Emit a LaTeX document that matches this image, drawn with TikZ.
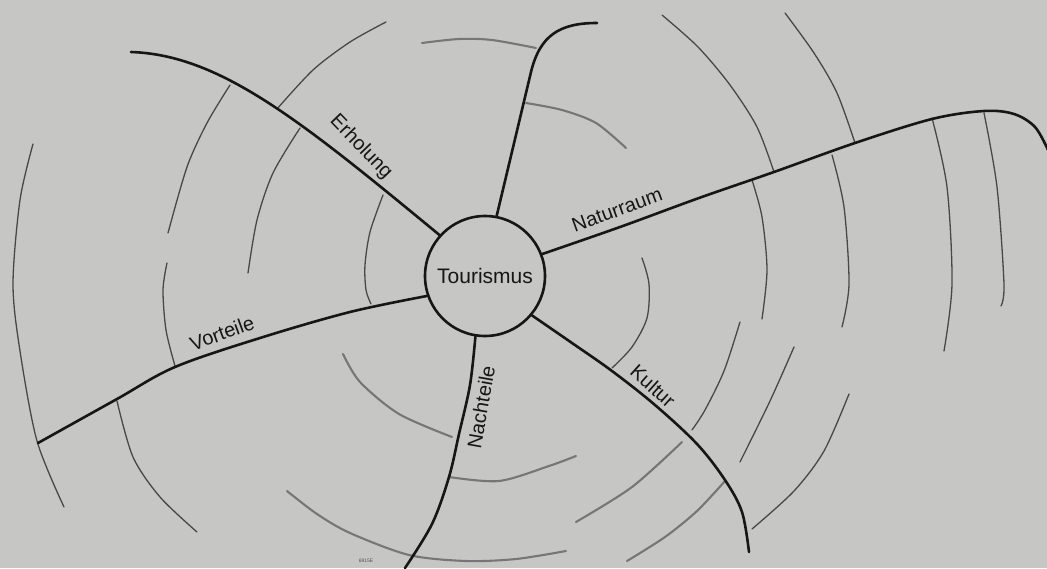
\documentclass[tikz,border=0pt]{standalone}
\usepackage{fontspec}
\setmainfont{Liberation Sans}
\definecolor{bg}{RGB}{198,199,197}
\definecolor{ink}{RGB}{22,22,22}
\definecolor{arcgray}{RGB}{72,72,72}
\definecolor{softgray}{RGB}{118,118,118}
\begin{document}
\begin{tikzpicture}[x=1pt,y=-1pt,
  branch/.style={line width=2.6pt, draw=ink, line cap=round},
  ring/.style={line width=1.3pt, draw=arcgray, line cap=round},
  softring/.style={line width=2.1pt, draw=softgray, line cap=round},
  lab/.style={font=\fontsize{20}{24}\selectfont, text=ink, inner sep=0pt},
]
\fill[bg] (0,0) rectangle (1047,568);
\useasboundingbox (0,0) rectangle (1047,568);

% gray rings (drawn first)
% far left
\draw[ring] plot[smooth] coordinates {(33,144) (20,200) (13,284) (20,351) (37,441) (64,507)};
% B upper / lower / below Vorteile
\draw[ring] plot[smooth] coordinates {(230,85) (207,123) (187,167) (168,233)};
\draw[ring] plot[smooth] coordinates {(167,263) (163,290) (166,330) (175,366)};
\draw[ring] plot[smooth] coordinates {(117,401) (133,457) (160,497) (197,532)};
% C upper / lower
\draw[ring] plot[smooth] coordinates {(386,22) (350,42) (313,70) (277,109)};
\draw[ring] plot[smooth] coordinates {(300,128) (273,173) (257,220) (248,273)};
% D
\draw[ring] plot[smooth] coordinates {(383,195) (370,232) (365,265) (366,290) (371,304)};
% top
\draw[softring] plot[smooth] coordinates {(422,43) (459,39) (492,40) (536,48)};
\draw[softring] plot[smooth] coordinates {(526,103) (562,110) (596,123) (626,148)};
% G, H upper
\draw[ring] plot[smooth] coordinates {(662,15) (698,47) (730,85) (757,127) (774,172)};
\draw[ring] plot[smooth] coordinates {(785,13) (814,53) (837,93) (855,143)};
% right side lower pieces
\draw[ring] plot[smooth] coordinates {(752,180) (762,217) (767,270) (762,319)};
\draw[ring] plot[smooth] coordinates {(832,155) (844,207) (849,284) (842,327)};
\draw[ring] plot[smooth] coordinates {(932,118) (947,187) (952,284) (944,351)};
\draw[ring] plot[smooth] coordinates {(984,113) (997,187) (1004,284) (1001,306)};
% O
\draw[ring] plot[smooth] coordinates {(642,258) (649,284) (647,318) (632,347) (612,368)};
% K L M
\draw[ring] plot[smooth] coordinates {(740,322) (724,371) (705,410) (692,430)};
\draw[ring] plot[smooth] coordinates {(794,347) (770,401) (740,462)};
\draw[ring] plot[smooth] coordinates {(849,394) (824,451) (794,491) (752,529)};
% lower middle
\draw[softring] plot[smooth] coordinates {(343,354) (360,382) (399,414) (452,437)};
\draw[softring] plot[smooth] coordinates {(449,477) (499,481) (549,466) (576,456)};
\draw[softring] plot[smooth] coordinates {(576,522) (632,487) (682,442)};
\draw[softring] plot[smooth] coordinates {(725,481) (697,511) (665,537) (627,561)};
\draw[softring] plot[smooth] coordinates {(287,491) (317,514) (350,533) (409,555) (466,561) (516,559) (566,551)};

% centre
\node[circle, draw=ink, line width=2.6pt, minimum size=120pt, inner sep=0pt,
      font=\fontsize{21}{25}\selectfont, text=ink] (c) at (485,276) {Tourismus};

% branch ends
\coordinate (eErh) at (131,52);
\coordinate (eTop) at (597,23);
\coordinate (eNat) at (1048,150);
\coordinate (eKul) at (749,552);
\coordinate (eNac) at (405,568);
\coordinate (eVor) at (38,443);

\draw[branch] (c.138) .. controls (300,120) and (220,55) .. (eErh);
\draw[branch] (c.79) -- (531,72) .. controls (540,35) and (560,23) .. (eTop);
\draw[branch] plot[smooth, tension=0.55] coordinates {(c.21) (620,227) (699,198) (774,172) (855,143) (932,119) (984,111) (1014,114) (1035,127) (eNat)};
\draw[branch] plot[smooth, tension=0.55] coordinates {(c.-40) (572,343) (612,371) (655,405) (697,444) (725,480) (742,512) (eKul)};
\draw[branch] plot[smooth, tension=0.55] coordinates {(c.-99) (470,385) (459,434) (449,477) (432,524) (eNac)};
\draw[branch] plot[smooth, tension=0.55] coordinates {(c.199) (350,312) (260,338) (175,367) (117,399) (eVor)};

% labels
\node[lab, rotate=-46] (lErh) at (361,147) {Erholung};
\node[lab, rotate=20] (lNat) at (617,210) {Naturraum};
\node[lab, rotate=20] (lVor) at (222,333) {Vorteile};
\node[lab, rotate=-42] (lKul) at (653,386) {Kultur};
\node[lab, rotate=80] (lNac) at (481,407) {Nachteile};
\node[font=\fontsize{5}{6}\selectfont, text=ink!75, inner sep=0pt] (code) at (366,561) {6915E};
\end{tikzpicture}
\end{document}
